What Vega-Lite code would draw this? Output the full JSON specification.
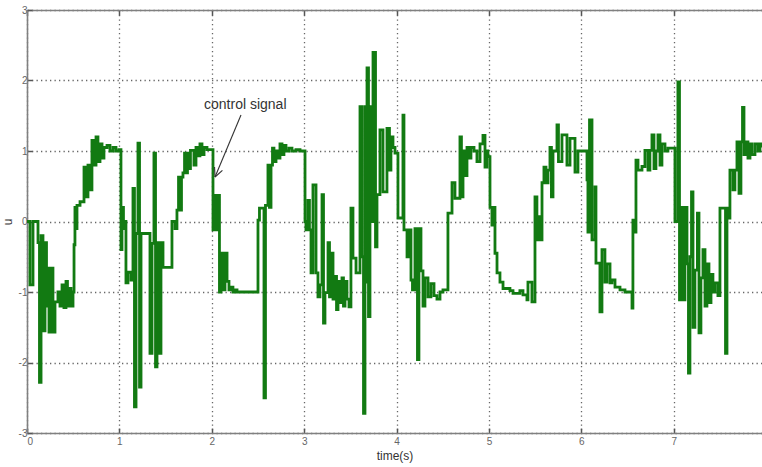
{
  "$schema": "https://vega.github.io/schema/vega-lite/v6.json",
  "width": 735,
  "height": 423,
  "autosize": {"type": "none"},
  "padding": {"left": 27, "top": 10, "right": 0, "bottom": 34},
  "background": "white",
  "config": {
    "view": {"stroke": null},
    "font": "Liberation Sans"
  },
  "datasets": {
    "sig": [
      {"t":0,"u":0},{"t":0.032,"u":-0.9},{"t":0.065,"u":0},{"t":0.119,"u":-0.3},{"t":0.135,"u":-2.28},{"t":0.152,"u":-0.2},{"t":0.173,"u":-1.55},{"t":0.195,"u":-0.3},{"t":0.211,"u":-1.2},{"t":0.222,"u":-0.66},{"t":0.238,"u":-1.57},{"t":0.26,"u":-0.66},{"t":0.281,"u":-1.57},{"t":0.303,"u":-1.14},{"t":0.335,"u":-1.0},{"t":0.357,"u":-1.2},{"t":0.379,"u":-0.9},{"t":0.4,"u":-1.22},{"t":0.422,"u":-0.85},{"t":0.438,"u":-1.2},{"t":0.455,"u":-0.95},{"t":0.476,"u":-1.2},{"t":0.498,"u":-1.0},{"t":0.509,"u":-0.33},{"t":0.519,"u":0.2},{"t":0.53,"u":-0.1},{"t":0.541,"u":0.23},{"t":0.574,"u":0.28},{"t":0.617,"u":0.77},{"t":0.639,"u":0.35},{"t":0.66,"u":0.8},{"t":0.682,"u":0.45},{"t":0.703,"u":1.15},{"t":0.725,"u":0.8},{"t":0.747,"u":1.2},{"t":0.768,"u":0.85},{"t":0.79,"u":1.1},{"t":0.812,"u":0.9},{"t":0.833,"u":1.05},{"t":0.866,"u":1.08},{"t":0.898,"u":1.0},{"t":0.931,"u":1.05},{"t":0.963,"u":1.0},{"t":0.996,"u":1.02},
      {"t":1.017,"u":-0.4},{"t":1.028,"u":0.2},{"t":1.044,"u":-0.1},{"t":1.061,"u":0.0},{"t":1.071,"u":-0.87},{"t":1.093,"u":-0.72},{"t":1.126,"u":-0.83},{"t":1.147,"u":0.47},{"t":1.163,"u":-2.63},{"t":1.18,"u":-0.17},{"t":1.201,"u":1.11},{"t":1.218,"u":-2.35},{"t":1.234,"u":-0.17},{"t":1.331,"u":-1.87},{"t":1.353,"u":-0.31},{"t":1.374,"u":0.97},{"t":1.391,"u":-2.06},{"t":1.407,"u":-0.3},{"t":1.429,"u":-1.87},{"t":1.45,"u":-0.3},{"t":1.472,"u":-0.65},{"t":1.569,"u":0.0},{"t":1.602,"u":-0.1},{"t":1.623,"u":0.16},{"t":1.64,"u":0.63},{"t":1.656,"u":0.16},{"t":1.672,"u":0.63},{"t":1.688,"u":0.69},{"t":1.705,"u":0.97},{"t":1.721,"u":0.69},{"t":1.737,"u":0.97},{"t":1.753,"u":0.75},{"t":1.769,"u":1.01},{"t":1.807,"u":0.8},{"t":1.829,"u":1.05},{"t":1.851,"u":0.93},{"t":1.872,"u":1.1},{"t":1.894,"u":0.95},{"t":1.916,"u":1.05},{"t":1.948,"u":1.02},
      {"t":2.013,"u":-0.12},{"t":2.029,"u":0.37},{"t":2.045,"u":-0.12},{"t":2.067,"u":0.37},{"t":2.083,"u":-1.0},{"t":2.1,"u":-0.45},{"t":2.121,"u":-0.97},{"t":2.143,"u":-0.45},{"t":2.165,"u":-0.85},{"t":2.186,"u":-0.97},{"t":2.208,"u":-0.93},{"t":2.229,"u":-1.0},{"t":2.251,"u":-0.97},{"t":2.273,"u":-1.0},{"t":2.5,"u":0.02},{"t":2.516,"u":0.19},{"t":2.565,"u":-2.5},{"t":2.581,"u":0.23},{"t":2.608,"u":0.8},{"t":2.624,"u":0.2},{"t":2.641,"u":0.8},{"t":2.657,"u":1.04},{"t":2.673,"u":0.85},{"t":2.695,"u":1.0},{"t":2.716,"u":0.9},{"t":2.738,"u":1.1},{"t":2.76,"u":0.95},{"t":2.781,"u":1.08},{"t":2.803,"u":1.0},{"t":2.835,"u":1.04},{"t":2.868,"u":1.0},{"t":2.911,"u":1.02},{"t":2.955,"u":1.0},
      {"t":3.009,"u":0.0},{"t":3.019,"u":-0.12},{"t":3.041,"u":0.3},{"t":3.057,"u":-0.12},{"t":3.074,"u":-0.73},{"t":3.095,"u":0.52},{"t":3.128,"u":-0.73},{"t":3.149,"u":-1.07},{"t":3.171,"u":-0.9},{"t":3.193,"u":0.38},{"t":3.209,"u":-1.44},{"t":3.225,"u":-1.01},{"t":3.258,"u":-0.3},{"t":3.274,"u":-1.07},{"t":3.29,"u":-0.45},{"t":3.312,"u":-1.1},{"t":3.333,"u":-0.78},{"t":3.35,"u":-1.25},{"t":3.366,"u":-0.85},{"t":3.387,"u":-1.15},{"t":3.409,"u":-0.8},{"t":3.425,"u":-1.2},{"t":3.442,"u":-0.85},{"t":3.463,"u":-1.1},{"t":3.485,"u":-1.21},{"t":3.506,"u":0.19},{"t":3.528,"u":-0.52},{"t":3.561,"u":-0.73},{"t":3.604,"u":1.63},{"t":3.626,"u":-0.5},{"t":3.642,"u":-2.72},{"t":3.658,"u":1.63},{"t":3.669,"u":-0.86},{"t":3.68,"u":2.18},{"t":3.696,"u":-1.35},{"t":3.712,"u":1.63},{"t":3.734,"u":0.0},{"t":3.745,"u":2.4},{"t":3.772,"u":-0.36},{"t":3.788,"u":0.38},{"t":3.82,"u":1.3},{"t":3.853,"u":0.42},{"t":3.896,"u":1.32},{"t":3.923,"u":0.73},{"t":3.939,"u":1.2},{"t":3.961,"u":1.05},{"t":3.983,"u":0.97},
      {"t":4.015,"u":0.05},{"t":4.069,"u":1.51},{"t":4.08,"u":-0.12},{"t":4.113,"u":-0.5},{"t":4.134,"u":-0.12},{"t":4.156,"u":-0.83},{"t":4.172,"u":-0.97},{"t":4.199,"u":-0.1},{"t":4.226,"u":-1.96},{"t":4.242,"u":-0.1},{"t":4.264,"u":-0.7},{"t":4.286,"u":-1.2},{"t":4.307,"u":-0.8},{"t":4.34,"u":-1.07},{"t":4.372,"u":-0.88},{"t":4.405,"u":-1.05},{"t":4.437,"u":-1.1},{"t":4.47,"u":-1.0},{"t":4.502,"u":-0.97},{"t":4.556,"u":0.12},{"t":4.6,"u":0.55},{"t":4.632,"u":0.33},{"t":4.686,"u":1.2},{"t":4.702,"u":0.35},{"t":4.719,"u":1.0},{"t":4.74,"u":0.65},{"t":4.762,"u":1.05},{"t":4.784,"u":0.9},{"t":4.805,"u":1.05},{"t":4.838,"u":1.0},{"t":4.87,"u":0.85},{"t":4.903,"u":1.1},{"t":4.935,"u":1.22},{"t":4.957,"u":0.77},{"t":4.978,"u":1.0},{"t":4.989,"u":0.92},
      {"t":5.011,"u":0.2},{"t":5.032,"u":-0.05},{"t":5.049,"u":0.2},{"t":5.065,"u":-0.45},{"t":5.087,"u":-0.73},{"t":5.119,"u":-0.86},{"t":5.152,"u":-0.95},{"t":5.227,"u":-0.98},{"t":5.26,"u":-1.02},{"t":5.335,"u":-0.98},{"t":5.368,"u":-1.04},{"t":5.411,"u":-1.11},{"t":5.422,"u":-0.86},{"t":5.465,"u":-1.14},{"t":5.498,"u":0.35},{"t":5.519,"u":-0.26},{"t":5.541,"u":0.07},{"t":5.563,"u":-0.26},{"t":5.574,"u":0.55},{"t":5.595,"u":0.77},{"t":5.617,"u":0.55},{"t":5.639,"u":0.73},{"t":5.66,"u":1.05},{"t":5.676,"u":0.35},{"t":5.693,"u":1.0},{"t":5.736,"u":1.37},{"t":5.752,"u":0.85},{"t":5.79,"u":1.23},{"t":5.844,"u":0.8},{"t":5.877,"u":1.18},{"t":5.931,"u":0.7},{"t":5.963,"u":1.0},
      {"t":6.061,"u":0.59},{"t":6.071,"u":-0.15},{"t":6.088,"u":1.44},{"t":6.115,"u":-0.26},{"t":6.147,"u":0.49},{"t":6.158,"u":-0.59},{"t":6.201,"u":-1.28},{"t":6.223,"u":-0.4},{"t":6.255,"u":-0.86},{"t":6.277,"u":-0.6},{"t":6.31,"u":-0.87},{"t":6.331,"u":-0.83},{"t":6.364,"u":-0.93},{"t":6.418,"u":-0.97},{"t":6.472,"u":-1.0},{"t":6.548,"u":-1.23},{"t":6.558,"u":0.02},{"t":6.575,"u":-0.15},{"t":6.591,"u":0.87},{"t":6.613,"u":0.73},{"t":6.656,"u":0.78},{"t":6.688,"u":1.01},{"t":6.721,"u":0.73},{"t":6.742,"u":1.01},{"t":6.764,"u":1.23},{"t":6.786,"u":0.75},{"t":6.807,"u":1.0},{"t":6.829,"u":1.23},{"t":6.851,"u":0.8},{"t":6.872,"u":1.1},{"t":6.905,"u":1.0},{"t":6.937,"u":1.04},
      {"t":7.013,"u":0.0},{"t":7.045,"u":1.98},{"t":7.062,"u":-1.11},{"t":7.078,"u":0.2},{"t":7.1,"u":-1.11},{"t":7.121,"u":0.2},{"t":7.143,"u":-0.6},{"t":7.159,"u":-2.15},{"t":7.175,"u":-0.5},{"t":7.192,"u":0.42},{"t":7.208,"u":-1.5},{"t":7.229,"u":-0.69},{"t":7.256,"u":0.12},{"t":7.273,"u":-1.58},{"t":7.294,"u":-0.8},{"t":7.316,"u":-0.4},{"t":7.338,"u":-1.2},{"t":7.359,"u":-0.6},{"t":7.381,"u":-1.15},{"t":7.403,"u":-0.75},{"t":7.424,"u":-1.0},{"t":7.446,"u":-0.87},{"t":7.478,"u":-1.05},{"t":7.5,"u":0.19},{"t":7.56,"u":-1.87},{"t":7.576,"u":0.19},{"t":7.592,"u":0.05},{"t":7.608,"u":0.73},{"t":7.641,"u":0.45},{"t":7.662,"u":0.73},{"t":7.684,"u":1.13},{"t":7.706,"u":0.4},{"t":7.727,"u":1.13},{"t":7.744,"u":1.62},{"t":7.76,"u":0.95},{"t":7.782,"u":1.13},{"t":7.803,"u":0.9},{"t":7.825,"u":1.1},{"t":7.846,"u":0.95},{"t":7.879,"u":1.1},{"t":7.911,"u":1.0},{"t":7.933,"u":1.1},{"t":7.955,"u":1.05}
    ],
    "arrow": [
      {"t":2.316,"u":1.511,"t2":2.035,"u2":0.631},
      {"t":2.115,"u":0.726,"t2":2.035,"u2":0.631},
      {"t":2.03,"u":0.773,"t2":2.035,"u2":0.631}
    ],
    "label": [
      {"t":1.916,"u":1.65,"text":"control signal"}
    ]
  },
  "layer": [
    {
      "data": {"name": "sig"},
      "mark": {"type": "line", "interpolate": "step-after", "color": "#127a12", "strokeWidth": 2.8, "clip": true},
      "encoding": {
        "x": {
          "field": "t", "type": "quantitative",
          "scale": {"domain": [0, 7.955], "nice": false, "zero": false},
          "axis": {
            "title": "time(s)",
            "titleFont": "Liberation Sans", "titleFontSize": 12, "titleFontWeight": "normal", "titleColor": "#333",
            "titlePadding": 4,
            "values": [0,1,2,3,4,5,6,7],
            "labelExpr": "'' + datum.value",
            "labelFont": "Liberation Sans", "labelFontSize": 10, "labelColor": "#666", "labelPadding": 8,
            "tickSize": -5, "tickColor": "#555", "tickWidth": 1.5,
            "domainColor": "#808080", "domainWidth": 1.6,
            "grid": true, "gridColor": "#555", "gridDash": [1.3, 3.2], "gridWidth": 1.3, "gridOpacity": 0.9
          }
        },
        "y": {
          "field": "u", "type": "quantitative",
          "scale": {"domain": [-3, 3], "nice": false, "zero": false},
          "axis": {
            "title": "u",
            "titleFont": "Liberation Sans", "titleFontSize": 12, "titleFontWeight": "normal", "titleColor": "#333",
            "titlePadding": 4,
            "values": [-3,-2,-1,0,1,2,3],
            "labelExpr": "'' + datum.value",
            "labelFont": "Liberation Sans", "labelFontSize": 10, "labelColor": "#666", "labelPadding": 5,
            "tickSize": -5, "tickColor": "#555", "tickWidth": 1.5,
            "domainColor": "#808080", "domainWidth": 1.6,
            "grid": true, "gridColor": "#555", "gridDash": [1.3, 3.2], "gridWidth": 1.3, "gridOpacity": 0.9
          }
        }
      }
    },
    {
      "data": {"name": "sig"},
      "mark": {"type": "line", "opacity": 0},
      "encoding": {
        "x": {"field": "t", "type": "quantitative", "axis": {"orient": "top", "title": null, "labels": false, "grid": false, "values": [0,1,2,3,4,5,6,7], "tickSize": -5, "tickColor": "#555", "tickWidth": 1.5, "domainColor": "#808080", "domainWidth": 1.6}},
        "y": {"field": "u", "type": "quantitative"}
      }
    },
    {
      "data": {"name": "arrow"},
      "mark": {"type": "rule", "color": "#333", "strokeWidth": 1.1},
      "encoding": {
        "x": {"field": "t", "type": "quantitative", "axis": null},
        "y": {"field": "u", "type": "quantitative"},
        "x2": {"field": "t2"},
        "y2": {"field": "u2"}
      }
    },
    {
      "data": {"name": "label"},
      "mark": {"type": "text", "align": "left", "baseline": "middle", "font": "Liberation Sans", "fontSize": 14, "color": "#333"},
      "encoding": {
        "x": {"field": "t", "type": "quantitative", "axis": null},
        "y": {"field": "u", "type": "quantitative"},
        "text": {"field": "text"}
      }
    }
  ],
  "resolve": {"axis": {"x": "independent"}}
}
